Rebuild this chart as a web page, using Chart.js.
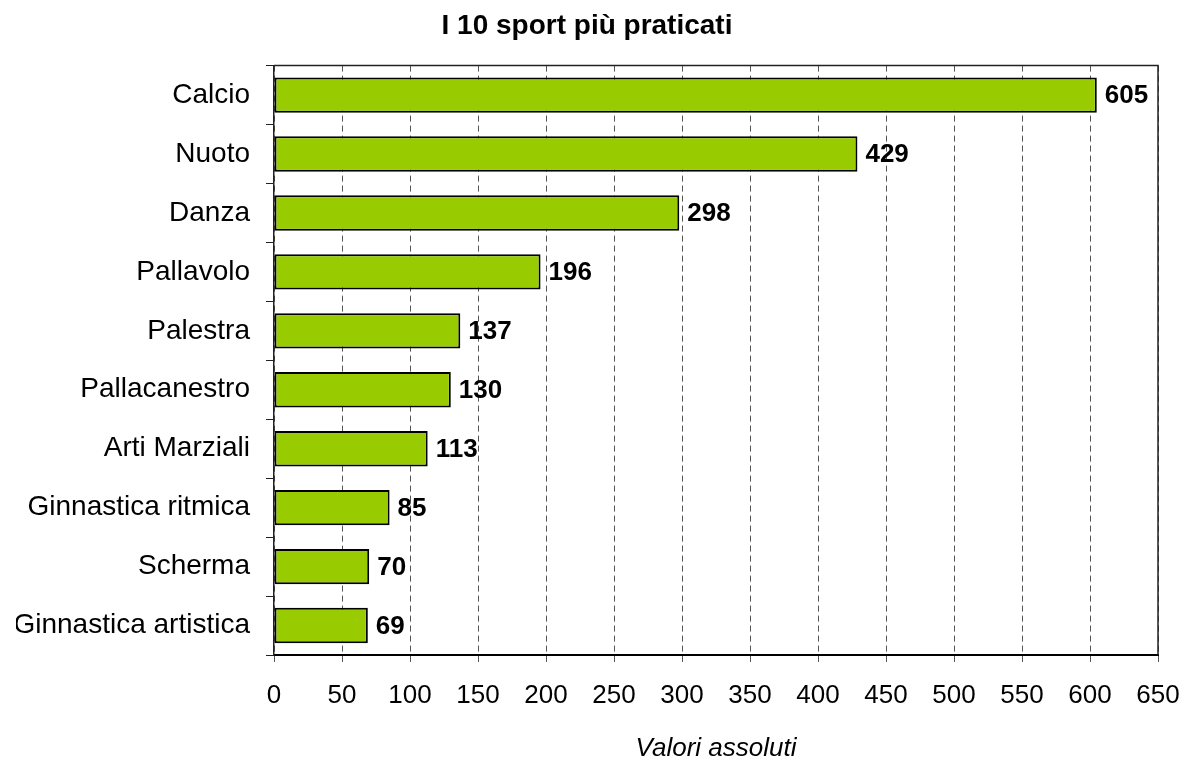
<!DOCTYPE html>
<html>
<head>
<meta charset="utf-8">
<script src="https://cdn.jsdelivr.net/npm/chart.js@4/dist/chart.umd.min.js"></script>
<style>
    html, body { margin: 0; padding: 0; background: #fff; }
</style>
</head>
<body>
<canvas id="chart" width="1182" height="762"></canvas>
<script>
var sports = ['Calcio', 'Nuoto', 'Danza', 'Pallavolo', 'Palestra', 'Pallacanestro',
    'Arti Marziali', 'Ginnastica ritmica', 'Scherma', 'Ginnastica artistica'];
var values = [605, 429, 298, 196, 137, 130, 113, 85, 70, 69];
var xTicks = [0, 50, 100, 150, 200, 250, 300, 350, 400, 450, 500, 550, 600, 650];

var FONT = '"Liberation Sans", Arial, sans-serif';

// value next to each bar
var valueLabels = {
    id: 'valueLabels',
    afterDatasetsDraw: function (chart) {
        var ctx = chart.ctx;
        var meta = chart.getDatasetMeta(0);
        ctx.save();
        ctx.font = 'bold 26px ' + FONT;
        ctx.fillStyle = '#000';
        ctx.textAlign = 'left';
        ctx.textBaseline = 'middle';
        for (var i = 0; i < meta.data.length; i++) {
            var bar = meta.data[i];
            ctx.fillText(values[i], bar.x + 8, bar.y + 1);
        }
        ctx.restore();
    }
};

// frame round the plot area
var plotFrame = {
    id: 'plotFrame',
    beforeDatasetsDraw: function (chart) {
        var a = chart.chartArea;
        var ctx = chart.ctx;
        ctx.save();
        ctx.strokeStyle = '#222';
        ctx.lineWidth = 1.5;
        ctx.beginPath();
        ctx.moveTo(a.left, a.top);
        ctx.lineTo(a.right, a.top);
        ctx.lineTo(a.right, a.bottom);
        ctx.stroke();
        ctx.restore();
    }
};

var config = {
    type: 'bar',
    plugins: [plotFrame, valueLabels],
    data: {
        labels: sports,
        datasets: [{
            data: values,
            backgroundColor: '#99CC00',
            borderColor: '#000',
            borderWidth: 2,
            borderSkipped: false,
            categoryPercentage: 1,
            barPercentage: 0.6
        }]
    },
    options: {
        indexAxis: 'y',
        responsive: false,
        animation: false,
        devicePixelRatio: 1,
        layout: {
            padding: { left: 16, right: 24, top: 0, bottom: 0 }
        },
        plugins: {
            legend: { display: false },
            tooltip: { enabled: false },
            title: {
                display: true,
                text: 'I 10 sport più praticati',
                color: '#000',
                font: { family: FONT, size: 28, weight: 'bold' },
                padding: { top: 9, bottom: 23 }
            }
        },
        scales: {
            x: {
                min: 0,
                max: 650,
                afterBuildTicks: function (scale) {
                    scale.ticks = xTicks.map(function (v) { return { value: v }; });
                },
                afterFit: function (scale) {
                    scale.height = 107;
                    scale.paddingLeft = 0;
                    scale.paddingRight = 0;
                },
                ticks: {
                    color: '#000',
                    padding: 18,
                    maxRotation: 0,
                    font: { family: FONT, size: 26 }
                },
                grid: {
                    color: '#555',
                    lineWidth: 1,
                    tickColor: '#555',
                    tickLength: 7
                },
                border: {
                    color: '#000',
                    width: 2,
                    dash: [6, 4]
                },
                title: {
                    display: true,
                    text: 'Valori assoluti',
                    color: '#000',
                    font: { family: FONT, size: 26, style: 'italic', lineHeight: 1 },
                    padding: { top: 0, bottom: 0 }
                }
            },
            y: {
                afterFit: function (scale) {
                    scale.width = 258;
                },
                ticks: {
                    color: '#000',
                    padding: 16,
                    font: { family: FONT, size: 28 }
                },
                grid: {
                    offset: true,
                    drawOnChartArea: false,
                    tickColor: '#222',
                    tickLength: 8
                },
                border: {
                    color: '#222',
                    width: 1.5
                }
            }
        }
    }
};

var ctx = document.getElementById('chart').getContext('2d');
var chart = new Chart(ctx, config);
</script>
</body>
</html>
